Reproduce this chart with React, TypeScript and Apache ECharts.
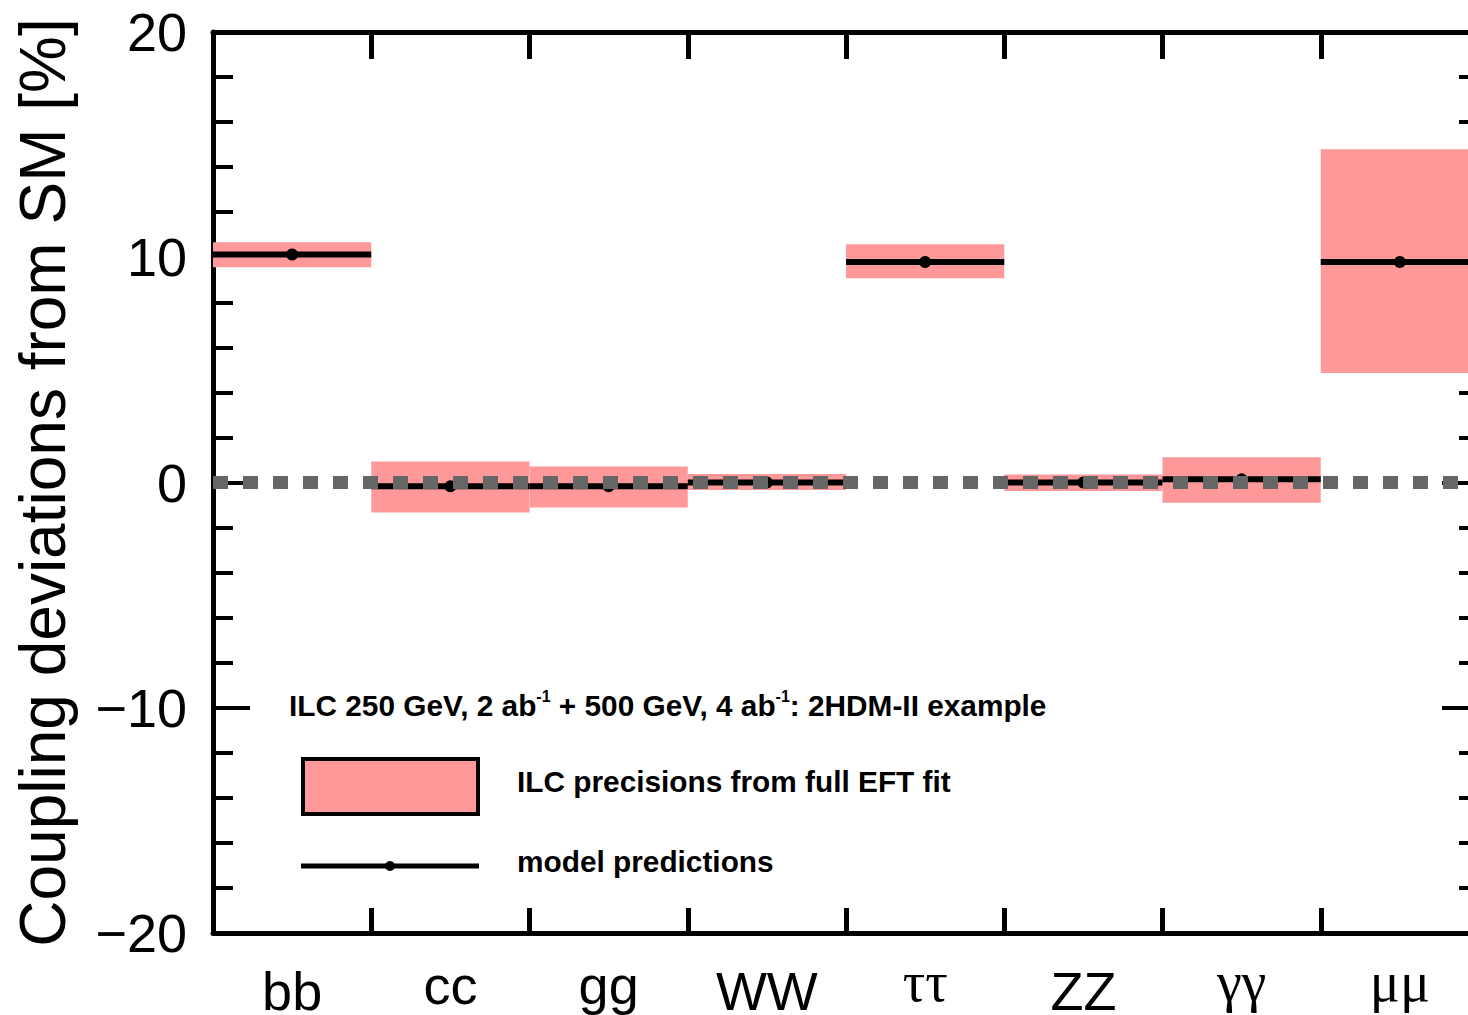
import React, { useEffect, useRef } from "react";
import * as echarts from "echarts";

const categories = ["bb", "cc", "gg", "WW", "ττ", "ZZ", "γγ", "μμ"];
const predictions = [10.12, -0.17, -0.17, 0.0, 9.79, 0.0, 0.14, 9.79];
const precisionHigh = [10.67, 0.93, 0.71, 0.38, 10.58, 0.36, 1.12, 14.79];
const precisionLow = [9.56, -1.33, -1.11, -0.33, 9.07, -0.38, -0.9, 4.86];
const yTicks = [-20, -10, 0, 10, 20];
const tallLabels = ["bb", "WW", "ZZ"];
const greekLabels = ["ττ", "γγ", "μμ"];

const PINK = "#ff9999";
const FONT = "'Liberation Sans', Arial, Helvetica, sans-serif";
const SERIF = "'Liberation Serif', 'Times New Roman', serif";
const NARROW = "'Liberation Sans Narrow', 'Arial Narrow', 'Liberation Sans', Arial, sans-serif";

const CHART_W = 1490;

export default function App() {
  const ref = useRef<HTMLDivElement>(null);
  useEffect(() => {
    if (!ref.current) return;
    const chart = echarts.init(ref.current, null, { renderer: "svg" });
    const boxData = categories.map((c, i) => [i, precisionLow[i], precisionHigh[i]]);
    const predData = categories.map((c, i) => [i, predictions[i]]);
    const option: any = {
      animation: false,
      backgroundColor: "#fff",
      grid: {
        left: 213,
        top: 32,
        right: CHART_W - 1479,
        bottom: 82,
        containLabel: false,
        outerBoundsMode: "none",
      },
      xAxis: [
        {
          type: "category",
          data: categories,
          position: "bottom",
          boundaryGap: true,
          axisLine: { show: true, onZero: false, lineStyle: { color: "#000", width: 5 } },
          axisTick: { show: true, inside: true, length: 25, lineStyle: { color: "#000", width: 5 } },
          axisLabel: {
            show: true,
            margin: 20,
            color: "#000",
            formatter: (v: string) =>
              tallLabels.includes(v) ? `{h|${v}}` : greekLabels.includes(v) ? `{g|${v}}` : `{l|${v}}`,
            rich: {
              h: { fontSize: 54, fontFamily: FONT, color: "#000", padding: [11, 0, 0, 0] },
              l: { fontSize: 54, fontFamily: FONT, color: "#000", padding: [5, 0, 0, 0] },
              g: { fontSize: 56, fontFamily: SERIF, color: "#000", padding: [1, 0, 0, 0] },
            },
          },
          splitLine: { show: false },
        },
        {
          type: "category",
          data: categories,
          position: "top",
          boundaryGap: true,
          axisLine: { show: true, onZero: false, lineStyle: { color: "#000", width: 5 } },
          axisTick: { show: true, inside: true, length: 27, lineStyle: { color: "#000", width: 5 } },
          axisLabel: { show: false },
          splitLine: { show: false },
        },
      ],
      yAxis: [
        {
          type: "value",
          min: -20,
          max: 20,
          interval: 10,
          position: "left",
          name: "Coupling deviations from SM [%]",
          nameLocation: "middle",
          nameRotate: 90,
          nameGap: 138,
          nameTextStyle: { fontSize: 64, fontFamily: FONT, color: "#000" },
          axisLine: { show: true, onZero: false, lineStyle: { color: "#000", width: 5 } },
          axisTick: { show: true, inside: true, length: 37, lineStyle: { color: "#000", width: 4 } },
          minorTick: { show: true, splitNumber: 5, length: 20, lineStyle: { color: "#000", width: 4 } },
          axisLabel: {
            show: true,
            margin: 26,
            fontSize: 54,
            fontFamily: FONT,
            color: "#000",
            formatter: (v: number) => (yTicks.includes(v) ? String(v).replace("-", "\u2212") : ""),
          },
          splitLine: { show: false },
        },
        {
          type: "value",
          min: -20,
          max: 20,
          interval: 10,
          position: "right",
          axisLine: { show: true, onZero: false, lineStyle: { color: "#000", width: 5 } },
          axisTick: { show: true, inside: true, length: 37, lineStyle: { color: "#000", width: 4 } },
          minorTick: { show: true, splitNumber: 5, length: 20, lineStyle: { color: "#000", width: 4 } },
          axisLabel: { show: false },
          splitLine: { show: false },
        },
      ],
      series: [
        {
          type: "custom",
          name: "ILC precisions from full EFT fit",
          xAxisIndex: 0,
          yAxisIndex: 0,
          z: 1,
          data: boxData,
          renderItem: (params: any, api: any) => {
            const top = api.coord([api.value(0), api.value(2)]);
            const bot = api.coord([api.value(0), api.value(1)]);
            const w = api.size([1, 0])[0];
            return {
              type: "rect",
              shape: { x: top[0] - w / 2, y: top[1], width: w, height: bot[1] - top[1] },
              style: { fill: PINK },
            };
          },
        },
        {
          type: "custom",
          name: "model predictions",
          xAxisIndex: 0,
          yAxisIndex: 0,
          z: 2,
          data: predData,
          renderItem: (params: any, api: any) => {
            const p = api.coord([api.value(0), api.value(1)]);
            const w = api.size([1, 0])[0];
            return {
              type: "group",
              children: [
                {
                  type: "line",
                  shape: { x1: p[0] - w / 2, y1: p[1], x2: p[0] + w / 2, y2: p[1] },
                  style: { stroke: "#000", lineWidth: 6 },
                },
                { type: "circle", shape: { cx: p[0], cy: p[1], r: 6 }, style: { fill: "#000" } },
              ],
            };
          },
        },
        {
          type: "line",
          data: [],
          z: 5,
          markLine: {
            silent: true,
            symbol: "none",
            label: { show: false },
            data: [{ yAxis: 0 }],
            lineStyle: { color: "#666", width: 13, type: [15, 15], opacity: 1 },
            z: 5,
          },
        },
      ],
      graphic: [
        {
          type: "text",
          left: 289,
          top: 688,
          style: {
            text: "{b|ILC 250 GeV, 2 ab}{s|-1}{b| + 500 GeV, 4 ab}{s|-1}{b|: 2HDM-II example}",
            rich: {
              b: { fontSize: 29.8, fontWeight: "bold", fontFamily: NARROW, fill: "#000", lineHeight: 34 },
              s: { fontSize: 16, fontWeight: "bold", fontFamily: NARROW, fill: "#000", verticalAlign: "top", lineHeight: 34 },
            },
          },
        },
        {
          type: "rect",
          shape: { x: 303, y: 759, width: 175, height: 55 },
          style: { fill: PINK, stroke: "#000", lineWidth: 4 },
        },
        {
          type: "text",
          left: 517,
          top: 766,
          style: { text: "ILC precisions from full EFT fit", fontSize: 29.8, fontWeight: "bold", fontFamily: NARROW, fill: "#000" },
        },
        {
          type: "line",
          shape: { x1: 301, y1: 866, x2: 479, y2: 866 },
          style: { stroke: "#000", lineWidth: 5 },
        },
        { type: "circle", shape: { cx: 390, cy: 866, r: 5 }, style: { fill: "#000" } },
        {
          type: "text",
          left: 517,
          top: 846,
          style: { text: "model predictions", fontSize: 29.8, fontWeight: "bold", fontFamily: NARROW, fill: "#000" },
        },
      ],
    };
    chart.setOption(option);
    return () => chart.dispose();
  }, []);
  return (
    <div style={{ position: "fixed", left: 0, top: 0, width: 1468, height: 1015, overflow: "hidden", background: "#fff" }}>
      <div ref={ref} style={{ width: CHART_W, height: 1015 }} />
    </div>
  );
}
